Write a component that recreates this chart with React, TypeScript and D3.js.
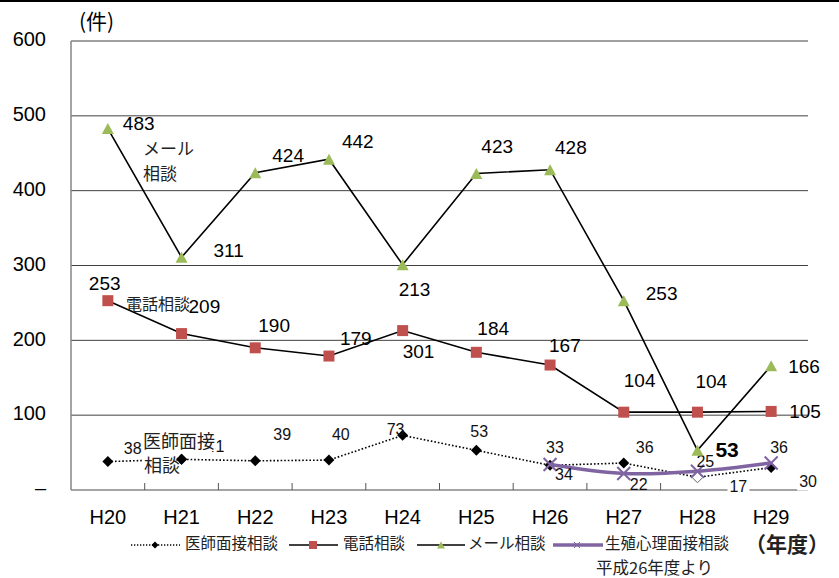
import React from "react";
import * as d3 from "d3";

// ---- data ----
const categories = ["H20", "H21", "H22", "H23", "H24", "H25", "H26", "H27", "H28", "H29"];
const mailValues = [483, 311, 424, 442, 301, 423, 428, 253, 53, 166];
const phoneValues = [253, 209, 190, 179, 213, 184, 167, 104, 104, 105];
const doctorValues = [38, 41, 39, 40, 73, 53, 33, 36, 17, 30];
const psychValues: (number | null)[] = [null, null, null, null, null, null, 34, 22, 25, 36];
const mailLabels = ["483", "311", "424", "442", "213", "423", "428", "253", "53", "166"];
const phoneLabels = ["253", "209", "190", "179", "301", "184", "167", "104", "104", "105"];
const doctorLabels = ["38", "41", "39", "40", "73", "53", "33", "36", "17", "30"];
const psychLabels = ["", "", "", "", "", "", "34", "22", "25", "36"];
const yTicks = [0, 100, 200, 300, 400, 500, 600];
const yTickLabels = ["–", "100", "200", "300", "400", "500", "600"];
const seriesNames = ["医師面接相談", "電話相談", "メール相談", "生殖心理面接相談"];
const unitLabel = "(件)";
const yearLabel = "（年度）";
const psychNote = "平成26年度より";

// ---- layout (label offsets relative to point) ----
const mailOff: [number, number][] = [[15, 1], [32, 0], [17, -11], [13, -11], [-4, 31], [5, -20], [5, -16], [22, -1], [18, 7], [17, 7]];
const phoneOff: [number, number][] = [[-19, -11], [7, -21], [3, -16], [11, -11], [0, 27], [1, -17], [-1, -13], [0, -25], [-2, -24], [18, 7]];
const doctorOff: [number, number][] = [[16, -8], [25, -7], [18, -21], [3, -20], [-16, 0], [-6, -13], [-4, -12], [12, -10], [32, 15], [28, 19]];
const psychOff: [number, number][] = [[0, 0], [0, 0], [0, 0], [0, 0], [0, 0], [0, 0], [5, 15], [6, 16], [-1, -4], [-1, -10]];

const FONT = "'Liberation Sans', Arial, 'Noto Sans CJK JP', sans-serif";
const CJK = "'Noto Sans CJK JP', 'Liberation Sans', sans-serif";
const GREEN = "#9BBB59";
const RED = "#C0504D";
const PURPLE = "#8064A2";

function Tri({ x, y, w, h }: { x: number; y: number; w: number; h: number }) {
  return <path d={`M${x},${y - h / 2}L${x + w / 2},${y + h / 2}L${x - w / 2},${y + h / 2}Z`} fill={GREEN} />;
}
function Sq({ x, y, s }: { x: number; y: number; s: number }) {
  return <rect x={x - s / 2} y={y - s / 2} width={s} height={s} fill={RED} />;
}
function Dia({ x, y, s, hollow }: { x: number; y: number; s: number; hollow?: boolean }) {
  return (
    <path
      d={`M${x},${y - s / 2}L${x + s / 2},${y}L${x},${y + s / 2}L${x - s / 2},${y}Z`}
      fill={hollow ? "#fff" : "#000"}
      stroke={hollow ? "#666" : "none"}
      strokeWidth={1}
    />
  );
}
function Cross({ x, y, s, w }: { x: number; y: number; s: number; w: number }) {
  const h = s / 2;
  return <path d={`M${x - h},${y - h}L${x + h},${y + h}M${x - h},${y + h}L${x + h},${y - h}`} stroke={PURPLE} strokeWidth={w} />;
}

export default function App() {
  const W = 839, H = 578;
  const x = d3.scaleBand<string>().domain(categories).range([71, 808]);
  const cx = (i: number) => (x(categories[i]) as number) + x.bandwidth() / 2;
  const y = d3.scaleLinear().domain([0, 600]).range([490, 41]);

  const lineGen = d3.line<number>().x((_, i) => cx(i)).y((d) => y(d));
  const psychPts = psychValues.map((v, i) => (v == null ? null : [cx(i), y(v)] as [number, number])).filter(Boolean) as [number, number][];
  const psychPath = d3.line().curve(d3.curveCatmullRom.alpha(0.5))(psychPts) || "";

  const bounds = categories.map((c) => x(c) as number).slice(1);

  return (
    <svg width={W} height={H} style={{ position: "fixed", left: 0, top: 0, background: "#fff" }} fontFamily={FONT}>
      <rect x={0} y={0} width={W} height={H} fill="#fff" />
      <rect x={0} y={0} width={W} height={2} fill="#000" />
      {/* gridlines */}
      {yTicks.filter((t) => t > 0).map((t) => (
        <line key={t} x1={71} x2={808} y1={y(t)} y2={y(t)} stroke="#404040" strokeWidth={1} />
      ))}
      {/* axes */}
      <line x1={71} x2={71} y1={41} y2={490} stroke="#868686" strokeWidth={1.5} />
      <line x1={71} x2={808} y1={490} y2={490} stroke="#868686" strokeWidth={1.5} />
      {bounds.map((b, i) => (
        <line key={i} x1={b} x2={b} y1={483} y2={490} stroke="#555" strokeWidth={1} />
      ))}
      {/* y tick labels */}
      {yTicks.map((t, i) => (
        <text key={t} x={46} y={y(t)} textAnchor="end" dominantBaseline="middle" fontSize={20} fill="#000">
          {yTickLabels[i]}
        </text>
      ))}
      <text x={79} y={29} fontSize={21} fontFamily={CJK} fill="#000">{unitLabel}</text>
      {/* x labels */}
      {categories.map((c, i) => (
        <text key={c} x={cx(i)} y={524} textAnchor="middle" fontSize={20} fill="#000">{c}</text>
      ))}

      {/* lines */}
      <path d={lineGen(doctorValues) || ""} fill="none" stroke="#000" strokeWidth={1.6} strokeDasharray="1.6 2" />
      <path d={lineGen(phoneValues) || ""} fill="none" stroke="#000" strokeWidth={1.6} />
      <path d={lineGen(mailValues) || ""} fill="none" stroke="#000" strokeWidth={1.6} />

      {/* doctor markers */}
      {doctorValues.map((v, i) => (
        <Dia key={i} x={cx(i)} y={y(v)} s={11} hollow={i === 8} />
      ))}
      <path d={psychPath} fill="none" stroke={PURPLE} strokeWidth={3.5} />
      {psychValues.map((v, i) => (v == null ? null : <Cross key={i} x={cx(i)} y={y(v)} s={13} w={2} />))}

      {/* data labels */}
      {doctorValues.map((v, i) => {
        const lx = cx(i) + doctorOff[i][0], ly = y(v) + doctorOff[i][1];
        const bg = i >= 8;
        return (
          <g key={i}>
            {bg && <rect x={lx - 2} y={ly - 14} width={22} height={18} fill="#fff" />}
            <text x={lx} y={ly} fontSize={16} fill="#111">{doctorLabels[i]}</text>
          </g>
        );
      })}
      {psychValues.map((v, i) => (v == null ? null : (
        <text key={i} x={cx(i) + psychOff[i][0]} y={y(v) + psychOff[i][1]} fontSize={16} fill="#111">{psychLabels[i]}</text>
      )))}
      {phoneValues.map((v, i) => (
        <text key={i} x={cx(i) + phoneOff[i][0]} y={y(v) + phoneOff[i][1]} fontSize={19} fill="#000">{phoneLabels[i]}</text>
      ))}
      {mailValues.map((v, i) => (
        <text key={i} x={cx(i) + mailOff[i][0]} y={y(v) + mailOff[i][1]} fontSize={i === 8 ? 21 : 19} fontWeight={i === 8 ? "bold" : "normal"} fill="#000">{mailLabels[i]}</text>
      ))}

      {/* in-chart annotations */}
      <text x={143} y={155} fontSize={17} fontFamily={CJK} fill="#222">メール</text>
      <text x={143} y={180} fontSize={17} fontFamily={CJK} fill="#222">相談</text>
      <text x={126} y={310} fontSize={16} fontFamily={CJK} fill="#222">電話相談</text>
      <rect x={143} y={433} width={72} height={18} fill="#fff" />
      <rect x={143} y={453} width={36} height={20} fill="#fff" />
      <text x={143} y={448} fontSize={18} fontFamily={CJK} fill="#222">医師面接</text>
      <text x={144} y={472} fontSize={18} fontFamily={CJK} fill="#222">相談</text>

      {/* markers on top */}
      <Dia x={cx(1)} y={y(doctorValues[1])} s={11} />
      {phoneValues.map((v, i) => (
        <Sq key={i} x={cx(i)} y={y(v)} s={11} />
      ))}
      {mailValues.map((v, i) => (
        <Tri key={i} x={cx(i)} y={y(v)} w={12} h={11} />
      ))}

      {/* legend */}
      <g fontFamily={CJK} fontSize={15.5} fill="#222">
        <line x1={131} x2={180} y1={545} y2={545} stroke="#000" strokeWidth={1.3} strokeDasharray="1.3 1.7" />
        <Dia x={155} y={545} s={7} />
        <text x={185} y={545} dominantBaseline="middle">{seriesNames[0]}</text>
        <line x1={289} x2={338} y1={545} y2={545} stroke="#000" strokeWidth={1.6} />
        <Sq x={313} y={545} s={8} />
        <text x={343} y={545} dominantBaseline="middle">{seriesNames[1]}</text>
        <line x1={417} x2={465} y1={545} y2={545} stroke="#000" strokeWidth={1.6} />
        <Tri x={441} y={545} w={8} h={7} />
        <text x={468} y={545} dominantBaseline="middle">{seriesNames[2]}</text>
        <line x1={553} x2={603} y1={545} y2={545} stroke={PURPLE} strokeWidth={3.5} />
        <Cross x={577} y={545} s={6} w={1} />
        <text x={605} y={545} dominantBaseline="middle">{seriesNames[3]}</text>
      </g>
      <text x={745} y={546} dominantBaseline="middle" fontSize={21} fontWeight="bold" fontFamily={CJK} fill="#222">{yearLabel}</text>
      <rect x={592} y={553} width={131} height={25} fill="#fff" />
      <text x={596} y={570} dominantBaseline="middle" fontSize={16.5} fontFamily={CJK} fill="#222">{psychNote}</text>
    </svg>
  );
}
